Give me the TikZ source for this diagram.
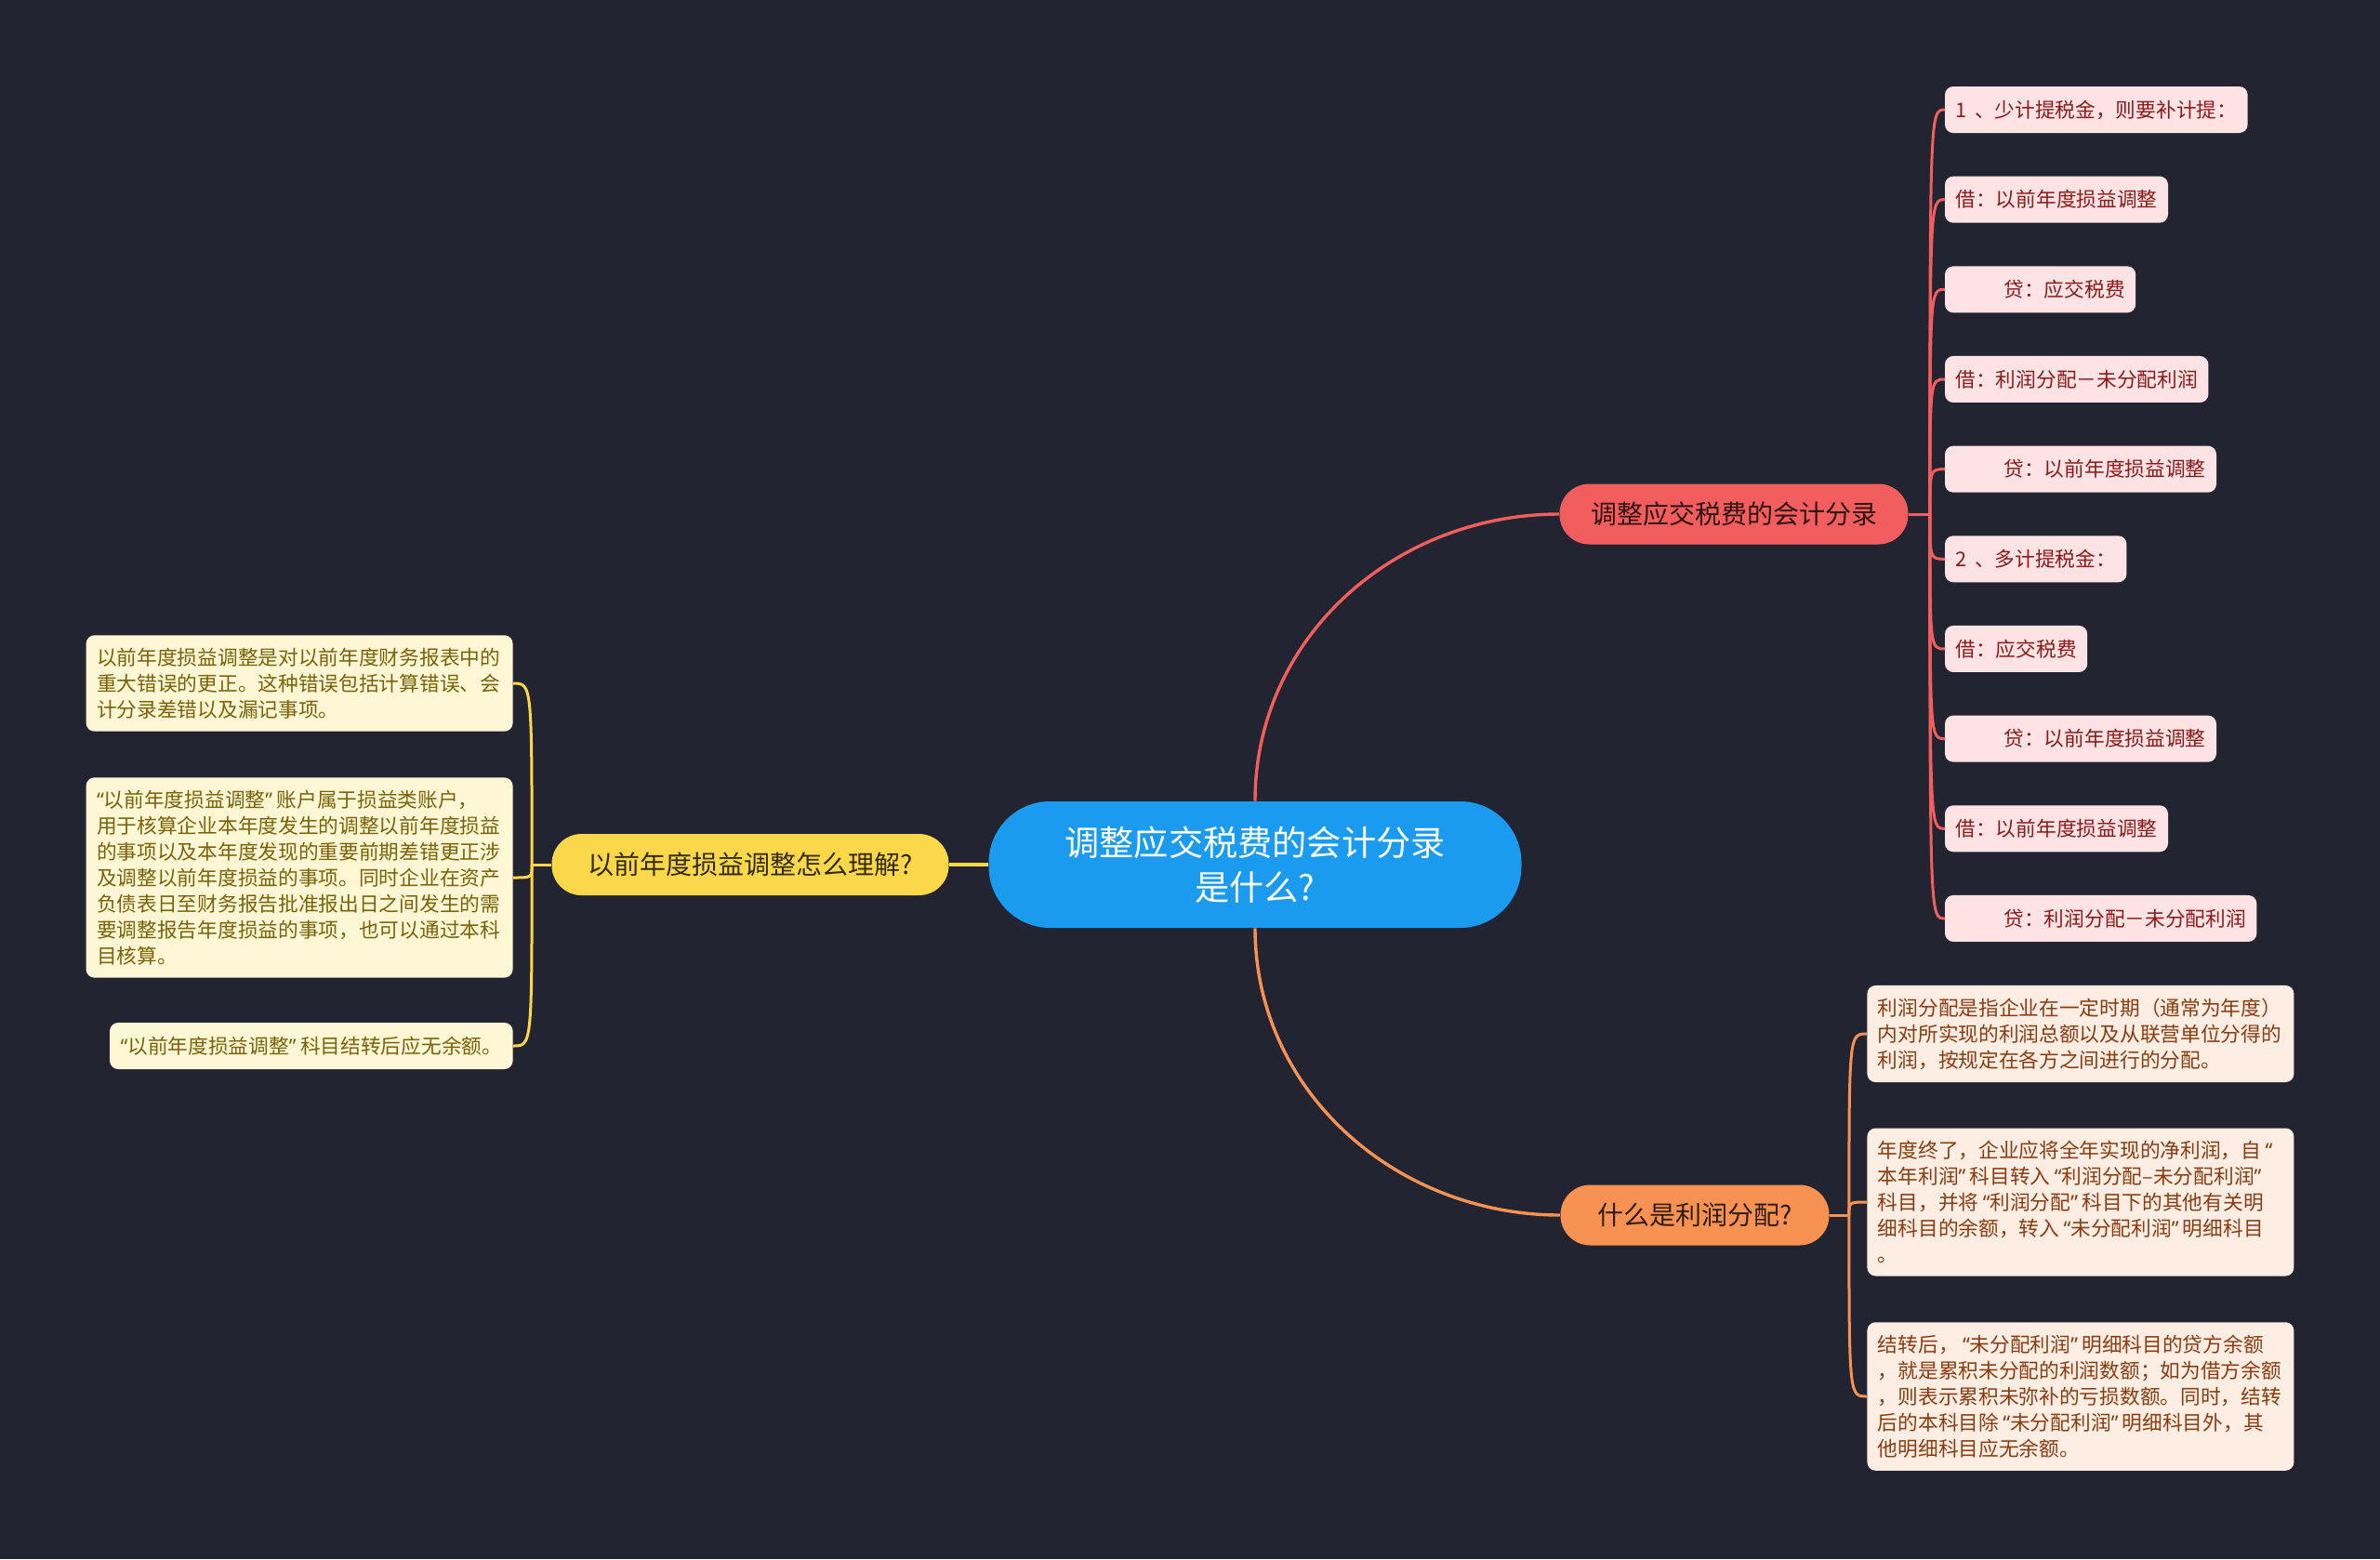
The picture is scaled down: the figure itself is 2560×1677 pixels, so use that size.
\documentclass[tikz,border=0pt]{standalone}
\usepackage{fontspec}
\setmainfont{Noto Sans CJK SC}
\newfontfamily\quotefont{Noto Sans}
\newcommand\oq{\hspace{0.2em}{\quotefont “}}
\newcommand\cq{{\quotefont ”}\hspace{0.2em}}
\exhyphenpenalty=10000
\usetikzlibrary{positioning}

\begin{document}
\begin{tikzpicture}[
  x=0.5pt, y=-0.5pt,
  root/.style={fill=cblue, text=white, rounded corners=33pt, minimum width=286.5pt, minimum height=68pt, align=center, font=\fontsize{18.6pt}{24pt}\selectfont},
  branch/.style={rounded corners=16pt, minimum height=32.5pt, font=\fontsize{14pt}{17pt}\selectfont},
  leaf/.style={rounded corners=4.5pt, inner xsep=5.75pt, inner ysep=6.8pt, align=left, font=\fontsize{10.85pt}{14pt}\selectfont},
  entry/.style={leaf, fill=credbg, text=credtxt, minimum height=25pt, inner ysep=3pt, outer sep=0pt},
  note/.style={leaf, text width=218pt},
  link/.style={line width=1.7pt},
  twig/.style={line width=1.5pt}
]

\definecolor{cbg}{RGB}{34,37,49}
\definecolor{cblue}{RGB}{26,155,240}
\definecolor{cred}{RGB}{242,94,93}
\definecolor{credbg}{RGB}{253,227,227}
\definecolor{credtxt}{RGB}{140,26,26}
\definecolor{corange}{RGB}{247,146,82}
\definecolor{corangebg}{RGB}{253,237,227}
\definecolor{corangetxt}{RGB}{138,60,16}
\definecolor{cyellow}{RGB}{251,215,74}
\definecolor{cyellowbg}{RGB}{253,247,214}
\definecolor{cyellowtxt}{RGB}{123,98,8}

\fill[cbg] (0,0) rectangle (2560,1677);

% Centre
\node[root] (root) at (1350,930) {调整应交税费的会计分录\\是什么?};

% Right top branch: journal entries
\node[branch, fill=cred, text=black!80!cred, minimum width=187.5pt] (rb) at (1865,553) {调整应交税费的会计分录};
\coordinate[right=11.5pt of rb.east] (rj);
\node[entry, anchor=west] (r1) at (2092,118) {1\,\ 、少计提税金，则要补计提：};
\node[entry, below right=23.33pt and 0pt of r1.south west] (r2) {借：以前年度损益调整};
\node[entry, below right=23.33pt and 0pt of r2.south west] (r3) {\hspace*{26pt}贷：应交税费};
\node[entry, below right=23.33pt and 0pt of r3.south west] (r4) {借：利润分配－未分配利润};
\node[entry, below right=23.33pt and 0pt of r4.south west] (r5) {\hspace*{26pt}贷：以前年度损益调整};
\node[entry, below right=23.33pt and 0pt of r5.south west] (r6) {2\,\ 、多计提税金：};
\node[entry, below right=23.33pt and 0pt of r6.south west] (r7) {借：应交税费};
\node[entry, below right=23.33pt and 0pt of r7.south west] (r8) {\hspace*{26pt}贷：以前年度损益调整};
\node[entry, below right=23.33pt and 0pt of r8.south west] (r9) {借：以前年度损益调整};
\node[entry, below right=23.33pt and 0pt of r9.south west] (r10) {\hspace*{26pt}贷：利润分配－未分配利润};

% Right bottom branch: profit distribution
\node[branch, fill=corange, text=black!80!corange, minimum width=144.5pt] (ob) at (1823,1307) {什么是利润分配?};
\coordinate[right=10.5pt of ob.east] (oj);
\node[note, fill=corangebg, text=corangetxt, anchor=west] (o1) at (2008,1112) {利润分配是指企业在一定时期（通常为年度）\\内对所实现的利润总额以及从联营单位分得的\\利润，按规定在各方之间进行的分配。};
\node[note, fill=corangebg, text=corangetxt, anchor=west] (o2) at (2008,1293) {年度终了，企业应将全年实现的净利润，自\oq\\本年利润\cq 科目转入\oq 利润分配–未分配利润\cq\\科目，并将\oq 利润分配\cq 科目下的其他有关明\\细科目的余额，转入\oq 未分配利润\cq 明细科目\\。};
\node[note, fill=corangebg, text=corangetxt, anchor=west] (o3) at (2008,1502) {结转后，\oq 未分配利润\cq 明细科目的贷方余额\\，就是累积未分配的利润数额；如为借方余额\\，则表示累积未弥补的亏损数额。同时，结转\\后的本科目除\oq 未分配利润\cq 明细科目外，其\\他明细科目应无余额。};

% Left branch: prior-year adjustment
\node[branch, fill=cyellow, text=black!80!cyellow, minimum width=213.5pt, minimum height=33pt] (yb) at (807,930) {以前年度损益调整怎么理解?};
\coordinate[left=10.5pt of yb.west] (yj);
\node[note, fill=cyellowbg, text=cyellowtxt, anchor=east] (y1) at (552,735) {以前年度损益调整是对以前年度财务报表中的\\重大错误的更正。这种错误包括计算错误、会\\计分录差错以及漏记事项。};
\node[note, fill=cyellowbg, text=cyellowtxt, anchor=east] (y2) at (552,944) {{\quotefont “}以前年度损益调整\cq 账户属于损益类账户，\\用于核算企业本年度发生的调整以前年度损益\\的事项以及本年度发现的重要前期差错更正涉\\及调整以前年度损益的事项。同时企业在资产\\负债表日至财务报告批准报出日之间发生的需\\要调整报告年度损益的事项，也可以通过本科\\目核算。};
\node[leaf, fill=cyellowbg, text=cyellowtxt, minimum height=25pt, inner ysep=3pt, anchor=east] (y3) at (552,1125) {{\quotefont “}以前年度损益调整\cq 科目结转后应无余额。};

% Main links
\draw[link, draw=cred] (root.north) to[out=90, in=180] (rb.west);
\draw[link, draw=corange] (root.south) to[out=-90, in=180] (ob.west);
\draw[link, draw=cyellow] (root.west) -- (yb.east);

% Red twigs
\draw[twig, draw=cred] (rb.east) -- (rj);
\draw[twig, draw=cred] (rj) .. controls (rj |- r1.west) .. (r1.west);
\draw[twig, draw=cred] (rj) .. controls (rj |- r2.west) .. (r2.west);
\draw[twig, draw=cred] (rj) .. controls (rj |- r3.west) .. (r3.west);
\draw[twig, draw=cred] (rj) .. controls (rj |- r4.west) .. (r4.west);
\draw[twig, draw=cred] (rj) .. controls (rj |- r5.west) .. (r5.west);
\draw[twig, draw=cred] (rj) .. controls (rj |- r6.west) .. (r6.west);
\draw[twig, draw=cred] (rj) .. controls (rj |- r7.west) .. (r7.west);
\draw[twig, draw=cred] (rj) .. controls (rj |- r8.west) .. (r8.west);
\draw[twig, draw=cred] (rj) .. controls (rj |- r9.west) .. (r9.west);
\draw[twig, draw=cred] (rj) .. controls (rj |- r10.west) .. (r10.west);

% Orange twigs
\draw[twig, draw=corange] (ob.east) -- (oj);
\draw[twig, draw=corange] (oj) .. controls (oj |- o1.west) .. (o1.west);
\draw[twig, draw=corange] (oj) .. controls (oj |- o2.west) .. (o2.west);
\draw[twig, draw=corange] (oj) .. controls (oj |- o3.west) .. (o3.west);

% Yellow twigs
\draw[twig, draw=cyellow] (yb.west) -- (yj);
\draw[twig, draw=cyellow] (yj) .. controls (yj |- y1.east) .. (y1.east);
\draw[twig, draw=cyellow] (yj) .. controls (yj |- y2.east) .. (y2.east);
\draw[twig, draw=cyellow] (yj) .. controls (yj |- y3.east) .. (y3.east);

\end{tikzpicture}
\end{document}
